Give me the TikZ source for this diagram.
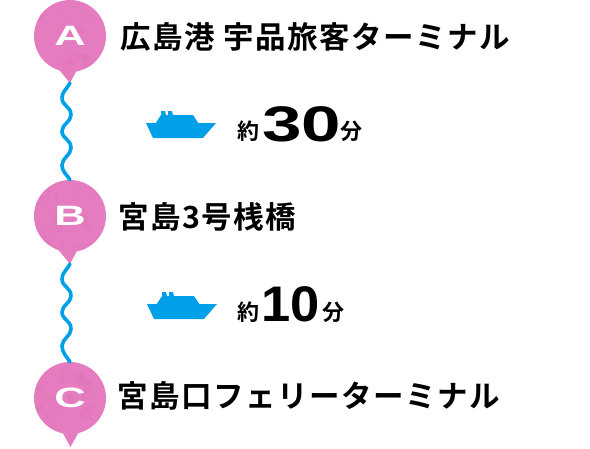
\documentclass[tikz,border=0pt]{standalone}
\usepackage{fontspec}
\usepackage{graphicx}
\newfontfamily\cjk[LetterSpace=5]{Noto Sans CJK JP Bold}
\newfontfamily\cjkb{Noto Sans CJK JP Bold}
\newfontfamily\wide{Liberation Sans Bold}
\definecolor{pinpink}{HTML}{E57CBF}
\definecolor{pinpinkd}{HTML}{DC70B5}
\definecolor{shipblue}{HTML}{00A0E9}
\tikzset{
  pin/.style={circle,fill=pinpink,minimum size=72pt,inner sep=0pt,text=white,
    path picture={\foreach \i in {1,...,40}{
      \fill[pinpinkd,opacity=0.22] (rnd*76-38,rnd*76-38) ellipse [x radius=2+rnd*4,y radius=1+rnd*3,rotate=rnd*180];}}},
  tip/.style={fill=pinpink},
  wave/.style={draw=shipblue,line width=3.6pt,line cap=round},
  stop/.style={anchor=west,inner sep=0pt,text=black,font=\fontsize{30.5}{30.5}\selectfont\cjk},
  unit/.style={anchor=base,inner sep=0pt,text=black,font=\fontsize{22}{22}\selectfont\cjkb},
  num/.style={anchor=base,inner sep=0pt,text=black},
  ship/.style={fill=shipblue}
}
\newcommand{\pinletter}[1]{\scalebox{1.55}[1]{\fontsize{28}{28}\selectfont\wide #1}}
\newcommand{\bignum}[2]{\scalebox{#1}[1]{\fontsize{50}{50}\selectfont\wide #2}}
\newcommand{\shipshape}[2]{%
  \fill[ship] (#1+0,#2+0) -- (#1+70,#2+0) -- (#1+57,#2+15) -- (#1+7,#2+15) -- cycle;
  \fill[ship] (#1+9,#2+1) -- (#1+15,#2-8) -- (#1+47,#2-8) -- (#1+53,#2+1) -- cycle;
  \fill[ship] (#1+15,#2-8) -- (#1+15,#2-12) -- (#1+19,#2-12) -- (#1+20,#2-8) -- cycle;
  \fill[ship] (#1+22,#2-8) -- (#1+22,#2-12) -- (#1+26,#2-12) -- (#1+27,#2-8) -- cycle;
}
\begin{document}
\begin{tikzpicture}[x=1pt,y=-1pt]
\useasboundingbox (0,0) rectangle (590,448);
\pgfmathsetseed{7}
\coordinate (a0) at (70,83);
\coordinate (b0) at (70,264);
\node[pin] (A) at (70,36) {\raisebox{-1pt}{\pinletter{A}}};
\node[pin] (B) at (70,216) {\pinletter{B}};
\node[pin] (C) at (70,398) {\pinletter{C}};
\fill[tip] (56,66) -- (70,83) -- (79,66) -- cycle;
\fill[tip] (56,247) -- (70,264) -- (79,247) -- cycle;
\fill[tip] (60,428) -- (70.5,447) -- (81,428) -- cycle;
\draw[wave] (a0) .. controls (66,90) and (62,92) .. (62,98) .. controls (62,106) and (71,106) .. (71,115)
  .. controls (71,122) and (62,124) .. (62,131) .. controls (62,139) and (71,139) .. (71,148)
  .. controls (71,155) and (62,158) .. (62,165) .. controls (62,171) and (66,174) .. (B.north);
\draw[wave] (b0) .. controls (66,271) and (62,273) .. (62,279) .. controls (62,287) and (71,287) .. (71,296)
  .. controls (71,303) and (62,305) .. (62,312) .. controls (62,320) and (71,320) .. (71,329)
  .. controls (71,336) and (62,339) .. (62,346) .. controls (62,352) and (66,356) .. (C.north);
\shipshape{146}{123}
\shipshape{147}{304}
\node[stop] (ta) at (120,37) {広島港 宇品旅客ターミナル};
\node[stop] (tb) at (118,217) {宮島3号桟橋};
\node[stop] (tc) at (117,396) {宮島口フェリーターミナル};
\node[unit] (y1) at (248,139.5) {約};
\node[num] (n1) at (302,141) {\bignum{1.42}{30}};
\node[unit] (f1) at (351.5,139.5) {分};
\node[unit] (y2) at (248,320.5) {約};
\node[num] (n2) at (291,321) {\bignum{1.05}{10}};
\node[unit] (f2) at (333,320.5) {分};
\end{tikzpicture}
\end{document}
